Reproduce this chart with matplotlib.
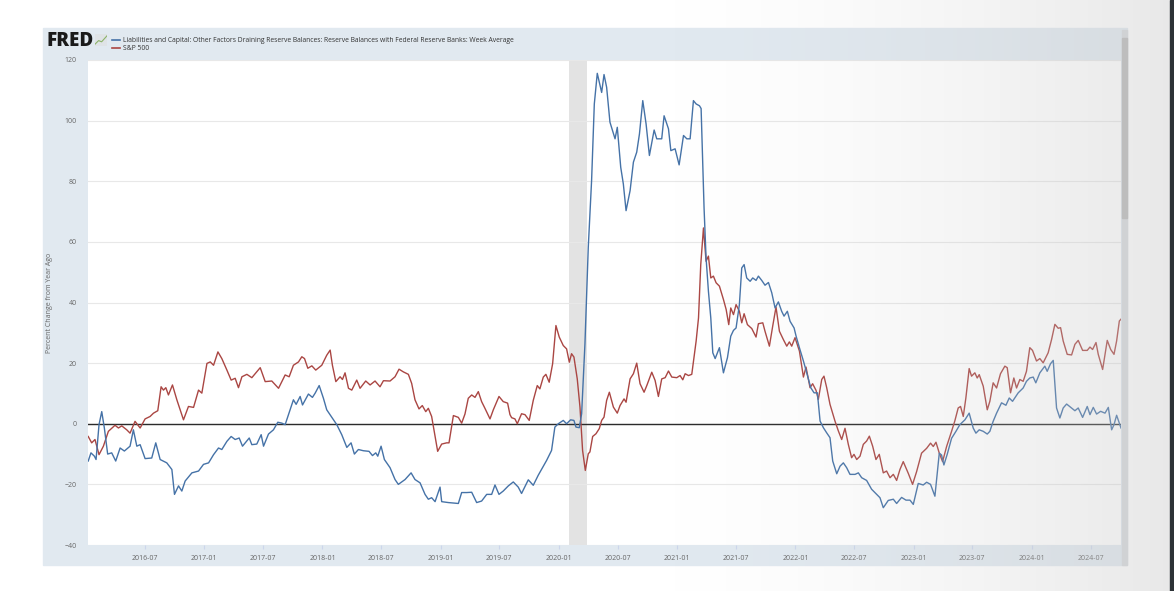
import matplotlib.pyplot as plt
import matplotlib.dates as mdates
import numpy as np
import pandas as pd
from matplotlib.patches import Rectangle
from matplotlib.lines import Line2D

# Reserve balances with Federal Reserve Banks, week average, % change from year ago
# (time as decimal year, value in percent)
blue_t = [2016.02, 2016.043, 2016.072, 2016.086, 2016.111, 2016.134, 2016.156, 2016.184, 2016.218,
          2016.252, 2016.289, 2016.325, 2016.373, 2016.401, 2016.430, 2016.458, 2016.5, 2016.556,
          2016.590, 2016.627, 2016.683, 2016.726, 2016.748, 2016.782, 2016.810, 2016.838, 2016.895,
          2016.951, 2016.993, 2017.036, 2017.078, 2017.120, 2017.148, 2017.191, 2017.227, 2017.261,
          2017.295, 2017.323, 2017.380, 2017.402, 2017.444, 2017.481, 2017.501, 2017.543, 2017.585,
          2017.622, 2017.656, 2017.684, 2017.712, 2017.754, 2017.777, 2017.811, 2017.831, 2017.881,
          2017.915, 2017.938, 2017.972, 2018.008, 2018.036, 2018.079, 2018.121, 2018.163, 2018.206,
          2018.242, 2018.270, 2018.304, 2018.346, 2018.394, 2018.423, 2018.451, 2018.468, 2018.496,
          2018.524, 2018.572, 2018.614, 2018.642, 2018.699, 2018.750, 2018.783, 2018.826, 2018.868,
          2018.896, 2018.924, 2018.953, 2018.995, 2019.009, 2019.065, 2019.150, 2019.178, 2019.220,
          2019.263, 2019.305, 2019.347, 2019.390, 2019.432, 2019.460, 2019.494, 2019.530, 2019.573,
          2019.615, 2019.657, 2019.685, 2019.742, 2019.784, 2019.826, 2019.897, 2019.939, 2019.967,
          2019.996, 2020.038, 2020.066, 2020.100, 2020.128, 2020.145, 2020.173, 2020.193, 2020.221,
          2020.249, 2020.277, 2020.300, 2020.325, 2020.362, 2020.382, 2020.404, 2020.432, 2020.475,
          2020.494, 2020.523, 2020.545, 2020.568, 2020.602, 2020.630, 2020.658, 2020.681, 2020.709,
          2020.737, 2020.765, 2020.805, 2020.827, 2020.869, 2020.889, 2020.926, 2020.946, 2020.982,
          2021.016, 2021.053, 2021.081, 2021.109, 2021.137, 2021.160, 2021.188, 2021.202, 2021.227,
          2021.244, 2021.264, 2021.284, 2021.301, 2021.321, 2021.357, 2021.391, 2021.425, 2021.453,
          2021.476, 2021.498, 2021.526, 2021.546, 2021.566, 2021.588, 2021.617, 2021.639, 2021.667,
          2021.687, 2021.715, 2021.743, 2021.772, 2021.800, 2021.828, 2021.856, 2021.884, 2021.904,
          2021.932, 2021.955, 2021.989, 2022.006, 2022.034, 2022.068, 2022.096, 2022.130, 2022.158,
          2022.186, 2022.209, 2022.237, 2022.265, 2022.293, 2022.316, 2022.350, 2022.378, 2022.406,
          2022.434, 2022.462, 2022.505, 2022.533, 2022.561, 2022.603, 2022.645, 2022.688, 2022.716,
          2022.744, 2022.786, 2022.829, 2022.857, 2022.899, 2022.936, 2022.970, 2022.998, 2023.040,
          2023.082, 2023.111, 2023.144, 2023.181, 2023.218, 2023.237, 2023.257, 2023.285, 2023.322,
          2023.359, 2023.392, 2023.435, 2023.471, 2023.505, 2023.528, 2023.556, 2023.590, 2023.624,
          2023.646, 2023.674, 2023.703, 2023.745, 2023.782, 2023.810, 2023.838, 2023.886, 2023.928,
          2023.956, 2023.984, 2024.013, 2024.035, 2024.069, 2024.111, 2024.131, 2024.159, 2024.182,
          2024.210, 2024.238, 2024.266, 2024.295, 2024.337, 2024.365, 2024.393, 2024.430, 2024.469,
          2024.492, 2024.520, 2024.548, 2024.582, 2024.619, 2024.647, 2024.675, 2024.695, 2024.717,
          2024.740, 2024.754]
blue_v = [-12.3, -9.6, -10.7, -11.8, -0.3, 4.0, -1.4, -10.0, -9.6,
          -12.3, -8.0, -9.0, -7.4, -2.0, -7.4, -6.9, -11.5, -11.3,
          -6.3, -11.8, -12.9, -15.1, -23.3, -20.5, -22.2, -18.9, -16.2,
          -15.6, -13.4, -12.9, -10.2, -8.0, -8.5, -5.8, -4.2, -5.2,
          -4.7, -7.4, -4.7, -6.9, -6.7, -3.6, -7.4, -3.4, -2.0,
          0.5, 0.2, -0.3, 3.0, 7.9, 6.4, 9.0, 6.2, 9.8,
          8.7, 10.1, 12.6, 8.4, 4.6, 2.1, -0.3, -3.6, -7.8,
          -6.3, -10.0, -8.5, -8.9, -9.1, -10.5, -9.6, -10.7, -7.4,
          -11.8, -14.5, -18.4, -20.0, -18.4, -16.2, -18.4, -19.5, -23.3,
          -24.9, -24.4, -25.7, -20.9, -25.7, -26.0, -26.3, -22.7, -22.7,
          -22.6, -26.0, -25.5, -23.3, -23.3, -20.2, -23.3, -22.2, -20.5,
          -19.2, -20.9, -23.0, -18.5, -20.3, -17.0, -12.1, -8.8, -1.1,
          0.0, 1.1, 0.0, 1.3, 1.1, -1.1, -1.3, 3.3, 26.4,
          58.2, 80.2, 105.5, 115.6, 109.3, 115.2, 111.0, 99.5, 94.0,
          97.8, 84.6, 79.1, 70.3, 76.9, 86.3, 89.6, 95.6, 106.6,
          98.9, 88.5, 96.9, 94.0, 94.0, 101.6, 97.3, 90.1, 90.7,
          85.4, 95.1, 94.0, 94.0, 106.6, 105.5, 104.9, 104.0, 71.2,
          54.7, 43.7, 34.9, 23.4, 21.5, 25.1, 16.8, 21.8, 28.9,
          30.8, 31.6, 39.3, 51.4, 52.5, 48.1, 47.0, 48.1, 47.3,
          48.7, 47.3, 45.7, 46.6, 43.2, 38.2, 40.2, 37.1, 35.5,
          37.1, 33.8, 31.6, 28.9, 25.1, 20.7, 16.8, 11.9, 10.2,
          10.2, 0.9, -1.3, -3.0, -4.6, -12.3, -16.5, -14.0, -12.9,
          -14.5, -16.7, -16.7, -16.2, -17.8, -18.7, -21.6, -23.3, -24.4,
          -27.7, -25.3, -24.9, -26.3, -24.3, -25.2, -25.2, -26.6, -19.7,
          -20.2, -19.3, -20.0, -23.9, -9.7, -10.3, -13.6, -10.1, -4.8,
          -2.5, -0.3, 1.3, 3.5, -1.4, -3.1, -2.0, -2.5, -3.4,
          -2.5, 0.8, 3.5, 6.9, 6.1, 8.5, 7.4, 10.2, 11.8,
          14.0, 15.1, 15.4, 13.5, 16.8, 19.0, 17.3, 19.8, 20.9,
          5.2, 1.9, 5.2, 6.5, 5.2, 4.3, 5.2, 2.1, 5.7,
          3.0, 5.4, 3.2, 4.1, 3.5, 5.4, -2.0, -0.3, 2.8,
          0.2, -1.4]

# S&P 500, % change from year ago
red_t = [2016.02, 2016.049, 2016.077, 2016.111, 2016.148, 2016.190, 2016.246, 2016.275, 2016.303,
         2016.345, 2016.373, 2016.415, 2016.458, 2016.500, 2016.542, 2016.571, 2016.607, 2016.635,
         2016.655, 2016.675, 2016.697, 2016.731, 2016.768, 2016.824, 2016.866, 2016.909, 2016.951,
         2016.979, 2017.022, 2017.050, 2017.078, 2017.115, 2017.148, 2017.191, 2017.227, 2017.261,
         2017.289, 2017.318, 2017.360, 2017.402, 2017.473, 2017.515, 2017.571, 2017.628, 2017.684,
         2017.718, 2017.754, 2017.797, 2017.825, 2017.848, 2017.876, 2017.910, 2017.943, 2017.994,
         2018.036, 2018.065, 2018.084, 2018.113, 2018.149, 2018.169, 2018.191, 2018.220, 2018.248,
         2018.290, 2018.318, 2018.366, 2018.403, 2018.445, 2018.487, 2018.516, 2018.572, 2018.614,
         2018.648, 2018.685, 2018.727, 2018.755, 2018.783, 2018.817, 2018.845, 2018.874, 2018.896,
         2018.924, 2018.975, 2019.009, 2019.051, 2019.071, 2019.108, 2019.150, 2019.178, 2019.206,
         2019.234, 2019.263, 2019.291, 2019.319, 2019.347, 2019.375, 2019.418, 2019.446, 2019.494,
         2019.530, 2019.567, 2019.587, 2019.601, 2019.629, 2019.649, 2019.685, 2019.714, 2019.750,
         2019.784, 2019.818, 2019.840, 2019.869, 2019.891, 2019.919, 2019.948, 2019.976, 2020.004,
         2020.038, 2020.066, 2020.089, 2020.108, 2020.128, 2020.156, 2020.179, 2020.201, 2020.224,
         2020.249, 2020.263, 2020.286, 2020.314, 2020.342, 2020.362, 2020.382, 2020.404, 2020.427,
         2020.461, 2020.494, 2020.517, 2020.551, 2020.568, 2020.602, 2020.630, 2020.658, 2020.686,
         2020.720, 2020.743, 2020.785, 2020.813, 2020.841, 2020.869, 2020.898, 2020.926, 2020.954,
         2020.996, 2021.024, 2021.047, 2021.067, 2021.095, 2021.123, 2021.160, 2021.180, 2021.199,
         2021.222, 2021.244, 2021.264, 2021.284, 2021.306, 2021.329, 2021.357, 2021.391, 2021.414,
         2021.436, 2021.453, 2021.476, 2021.498, 2021.526, 2021.546, 2021.566, 2021.594, 2021.631,
         2021.667, 2021.687, 2021.724, 2021.743, 2021.780, 2021.808, 2021.836, 2021.865, 2021.898,
         2021.927, 2021.949, 2021.969, 2021.997, 2022.034, 2022.068, 2022.090, 2022.124, 2022.146,
         2022.175, 2022.194, 2022.223, 2022.242, 2022.265, 2022.293, 2022.335, 2022.364, 2022.392,
         2022.420, 2022.448, 2022.476, 2022.496, 2022.519, 2022.547, 2022.575, 2022.603, 2022.626,
         2022.654, 2022.682, 2022.710, 2022.744, 2022.772, 2022.801, 2022.829, 2022.857, 2022.885,
         2022.913, 2022.956, 2022.992, 2023.026, 2023.068, 2023.111, 2023.144, 2023.167, 2023.190,
         2023.218, 2023.246, 2023.280, 2023.322, 2023.350, 2023.378, 2023.398, 2023.421, 2023.443,
         2023.471, 2023.491, 2023.519, 2023.539, 2023.556, 2023.590, 2023.624, 2023.646, 2023.674,
         2023.703, 2023.736, 2023.773, 2023.793, 2023.821, 2023.849, 2023.872, 2023.900, 2023.928,
         2023.956, 2023.984, 2024.007, 2024.041, 2024.069, 2024.097, 2024.139, 2024.168, 2024.196,
         2024.224, 2024.244, 2024.266, 2024.300, 2024.337, 2024.365, 2024.393, 2024.430, 2024.469,
         2024.492, 2024.514, 2024.543, 2024.562, 2024.599, 2024.638, 2024.667, 2024.695, 2024.717,
         2024.740, 2024.754]
red_v = [-4.2, -6.3, -5.2, -10.2, -7.4, -2.5, -0.5, -1.4, -0.7,
         -2.0, -3.1, 0.8, -1.4, 1.6, 2.4, 3.5, 4.3, 12.2,
         11.1, 11.9, 9.5, 12.8, 7.9, 1.3, 5.7, 5.4, 11.1,
         10.1, 19.9, 20.4, 19.3, 23.7, 21.5, 17.7, 14.4, 15.0,
         11.9, 15.5, 16.3, 15.2, 18.5, 13.9, 14.1, 11.7, 16.1,
         15.5, 19.3, 20.4, 22.1, 21.5, 18.3, 19.1, 17.7, 19.3,
         22.6, 24.3, 19.3, 13.9, 15.5, 14.6, 16.8, 11.7, 11.1,
         14.4, 11.7, 14.1, 12.8, 14.1, 12.2, 14.2, 14.1, 15.5,
         18.0, 17.1, 16.3, 13.3, 7.9, 4.9, 6.0, 4.0, 5.1,
         2.4, -9.1, -6.7, -6.3, -6.3, 2.7, 2.1, 0.2, 3.2,
         8.4, 9.5, 8.7, 10.6, 7.3, 5.1, 1.6, 4.6, 9.0,
         7.3, 6.8, 3.0, 2.0, 1.6, 0.0, 3.3, 3.0, 1.1,
         7.7, 12.6, 11.5, 15.4, 16.3, 13.7, 19.8, 32.4, 28.6,
         25.8, 24.7, 20.3, 23.1, 22.0, 14.8, 5.5, -8.8, -15.4,
         -9.9, -9.3, -4.2, -3.3, -1.6, 1.1, 2.2, 7.7, 10.4,
         5.5, 3.5, 6.0, 8.2, 7.1, 14.8, 16.5, 20.0, 13.2,
         10.4, 12.6, 17.0, 14.3, 9.0, 14.8, 15.2, 17.4, 15.4,
         15.2, 15.9, 14.5, 16.5, 15.9, 16.3, 27.3, 34.9, 52.5,
         64.6, 53.6, 55.3, 48.1, 48.7, 46.5, 45.4, 41.0, 37.7,
         32.7, 38.2, 36.0, 39.3, 37.1, 33.3, 36.3, 32.7, 31.4,
         28.6, 33.0, 33.3, 30.5, 25.6, 32.2, 38.5, 30.5, 27.8,
         25.6, 27.0, 25.6, 28.4, 24.0, 15.4, 18.7, 11.9, 13.2,
         11.0, 8.0, 14.6, 15.7, 11.9, 6.4, 0.9, -2.4, -5.2,
         -1.5, -6.8, -11.2, -10.1, -11.8, -10.7, -6.8, -5.7, -4.1,
         -7.4, -11.8, -10.1, -16.2, -15.6, -17.8, -16.7, -18.7, -15.1,
         -12.5, -16.4, -20.0, -15.8, -9.7, -8.1, -6.4, -7.5, -6.1,
         -9.7, -12.5, -7.5, -2.5, 1.0, 5.2, 5.7, 2.4, 8.5,
         18.2, 15.7, 16.8, 15.1, 16.2, 12.4, 4.6, 7.4, 13.5,
         11.8, 16.5, 19.0, 18.5, 10.2, 15.1, 11.8, 14.6, 14.0,
         17.3, 25.1, 24.2, 20.7, 21.5, 20.1, 23.4, 27.8, 32.8,
         31.5, 31.7, 27.3, 22.9, 22.7, 26.2, 27.5, 24.2, 24.2,
         25.3, 24.5, 26.8, 22.9, 17.9, 27.5, 24.5, 22.9, 27.3,
         33.9, 34.5]

x_ticks = ['2016-07-01', '2017-01-01', '2017-07-01', '2018-01-01', '2018-07-01', '2019-01-01',
           '2019-07-01', '2020-01-01', '2020-07-01', '2021-01-01', '2021-07-01', '2022-01-01',
           '2022-07-01', '2023-01-01', '2023-07-01', '2024-01-01', '2024-07-01']
x_range = [2016.018, 2024.754]
recession = ['2020-02-01', '2020-03-28']

blue_label = ('Liabilities and Capital: Other Factors Draining Reserve Balances: '
              'Reserve Balances with Federal Reserve Banks: Week Average')
red_label = 'S&P 500'


def to_dates(years):
    out = []
    for y in years:
        yr = int(y)
        start = pd.Timestamp(yr, 1, 1)
        ndays = (pd.Timestamp(yr + 1, 1, 1) - start).days
        out.append(start + pd.Timedelta(days=(y - yr) * ndays))
    return out


plt.rcParams['font.family'] = ['Open Sans', 'DejaVu Sans']

W, H = 1174, 591
fig = plt.figure(figsize=(W / 100, H / 100), dpi=100)
fig.patch.set_facecolor('white')


def box(x0, y0, x1, y1):
    # pixel box with top-left origin -> figure rect
    return [x0 / W, 1 - y1 / H, (x1 - x0) / W, (y1 - y0) / H]


# FRED grey-blue panel
b = box(43, 28, 1127, 565)
fig.add_artist(Rectangle((b[0], b[1]), b[2], b[3], transform=fig.transFigure,
                         color='#e1e9f0', zorder=0))
# scrollbar track + thumb
b = box(1122, 30, 1127, 565)
fig.add_artist(Rectangle((b[0], b[1]), b[2], b[3], transform=fig.transFigure,
                         color='#d6d9dc', zorder=0))
b = box(1122, 38, 1127, 218)
fig.add_artist(Rectangle((b[0], b[1]), b[2], b[3], transform=fig.transFigure,
                         color='#b9b9b9', zorder=0))

ax = fig.add_axes(box(88, 60, 1121, 545))
ax.set_facecolor('white')

ax.axvspan(pd.Timestamp(recession[0]), pd.Timestamp(recession[1]), color='#e3e3e3', lw=0, zorder=0)
ax.axhline(0, color='#2b2b2b', lw=1.0, zorder=1)
ax.plot(to_dates(blue_t), blue_v, color='#4572a7', lw=1.0, zorder=3)
ax.plot(to_dates(red_t), red_v, color='#aa4643', lw=1.0, zorder=2)

ax.set_ylim(-40, 120)
ax.set_yticks(range(-40, 121, 20))
ax.set_xlim(to_dates(x_range))
ax.set_xticks([pd.Timestamp(d) for d in x_ticks])
ax.xaxis.set_major_formatter(mdates.DateFormatter('%Y-%m'))
ax.grid(axis='y', color='#e8e8e8', lw=0.8)
ax.set_axisbelow(True)
for s in ax.spines.values():
    s.set_visible(False)
ax.tick_params(axis='y', length=0, labelsize=5, labelcolor='#666666', pad=8)
ax.tick_params(axis='x', length=3, color='#ccd6eb', labelsize=5, labelcolor='#666666', pad=4)
ax.set_ylabel('Percent Change from Year Ago', fontsize=5, color='#666666')
ax.yaxis.set_label_coords(-0.034, 0.5)

# FRED logo + legend
fig.text(46 / W, 1 - 41 / H, 'FRED', fontsize=13.5, fontweight='heavy', color='#1a1a1a', va='center')
ib = box(95, 34, 107, 46)
icon = fig.add_axes(ib)
icon.set_facecolor('#dfe3e6')
icon.plot([0, 0.3, 0.55, 1], [0.15, 0.45, 0.35, 0.85], color='#8cb369', lw=0.8)
icon.set_xlim(0, 1)
icon.set_ylim(0, 1)
icon.set_xticks([])
icon.set_yticks([])
for s in icon.spines.values():
    s.set_visible(False)

for yy, col, lab in [(40, '#4572a7', blue_label), (48, '#aa4643', red_label)]:
    fig.add_artist(Line2D([112 / W, 120 / W], [1 - yy / H, 1 - yy / H], color=col, lw=1.2,
                          transform=fig.transFigure))
    fig.text(123 / W, 1 - yy / H, lab, fontsize=4.85, color='#333333', va='center')

# screenshot glare: grey wash growing toward the right edge
ov = fig.add_axes([0, 0, 1, 1], zorder=10)
ov.set_axis_off()
xs = np.linspace(0, 1, 600)
alpha = np.clip((xs - 0.55) / 0.45, 0, 1) ** 1.6 * 0.4
img = np.zeros((2, 600, 4))
img[..., :3] = 0.78
img[..., 3] = alpha
ov.imshow(img, extent=[0, 1, 0, 1], aspect='auto')
ov.set_xlim(0, 1)
ov.set_ylim(0, 1)
b = box(1170, 0, 1174, 591)
ov.add_patch(Rectangle((b[0], b[1]), b[2], b[3], color='#2d3236', transform=fig.transFigure))

fig.savefig('out.png', dpi=100)
